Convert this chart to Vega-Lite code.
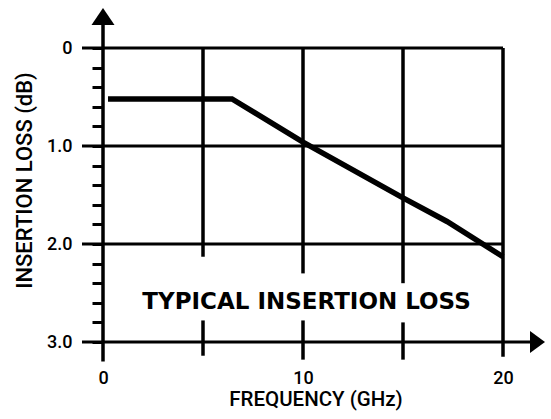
{
  "$schema": "https://vega.github.io/schema/vega-lite/v6.json",
  "width": 400,
  "height": 294,
  "autosize": {"type": "none"},
  "padding": {"left": 103, "top": 48, "right": 48, "bottom": 77},
  "background": "white",
  "config": {"view": {"stroke": null}},
  "datasets": {
    "vgrid": [
      {"x": 5, "y": 0, "y2": 2.13},
      {"x": 5, "y": 2.78, "y2": 3.14},
      {"x": 10, "y": 0, "y2": 2.3},
      {"x": 10, "y": 2.78, "y2": 3.18},
      {"x": 15, "y": 0, "y2": 2.4},
      {"x": 15, "y": 2.8, "y2": 3.18},
      {"x": 20, "y": 0, "y2": 3.15},
      {"x": 0, "y": -0.24, "y2": 3.2}
    ],
    "hgrid": [
      {"y": 0, "x": -1.05, "x2": 20},
      {"y": 1, "x": -1.05, "x2": 20},
      {"y": 2, "x": -1.05, "x2": 20},
      {"y": 3, "x": -1.05, "x2": 21.4}
    ],
    "loss": [
      {"x": 0.25, "y": 0.52},
      {"x": 6.45, "y": 0.52},
      {"x": 10, "y": 0.96},
      {"x": 15, "y": 1.53},
      {"x": 17.2, "y": 1.77},
      {"x": 20, "y": 2.13}
    ],
    "arrowUp": [{"x": 0, "y": -0.321}],
    "arrowRight": [{"x": 21.725, "y": 3}],
    "label": [{"x": 10.175, "y": 2.663, "text": "TYPICAL INSERTION LOSS"}]
  },
  "encoding": {
    "x": {
      "field": "x",
      "type": "quantitative",
      "scale": {"domain": [0, 20], "nice": false, "zero": false},
      "axis": {
        "orient": "bottom",
        "values": [0, 10, 20],
        "domain": false,
        "ticks": false,
        "tickSize": 0,
        "grid": false,
        "labelFlush": false,
        "labelOverlap": false,
        "labelFont": "Roboto",
        "labelFontWeight": 500,
        "labelFontSize": 18,
        "labelColor": "black",
        "labelBaseline": "alphabetic",
        "labelPadding": 41,
        "title": "FREQUENCY (GHz)",
        "titleFont": "Roboto",
        "titleFontSize": 20.5,
        "titleFontWeight": 500,
        "titleColor": "black",
        "titleBaseline": "alphabetic",
        "titleX": 212.5,
        "titleY": 63,
        "titleAlign": "center"
      }
    },
    "y": {
      "field": "y",
      "type": "quantitative",
      "scale": {"domain": [0, 3], "nice": false, "zero": false, "reverse": true},
      "axis": {
        "orient": "left",
        "values": [0, 0.2, 0.4, 0.6, 0.8, 1, 1.2, 1.4, 1.6, 1.8, 2, 2.2, 2.4, 2.6, 2.8, 3],
        "labelExpr": "datum.value == 0 ? '0' : (datum.value % 1 == 0 ? format(datum.value, '.1f') : '')",
        "domain": false,
        "ticks": true,
        "tickSize": 11,
        "tickWidth": 3,
        "tickColor": "black",
        "grid": false,
        "labelFlush": false,
        "labelOverlap": false,
        "labelFont": "Roboto",
        "labelFontWeight": 500,
        "labelFontSize": 18,
        "labelColor": "black",
        "labelBaseline": "middle",
        "labelPadding": 20,
        "title": "INSERTION LOSS (dB)",
        "titleFont": "Roboto",
        "titleFontSize": 22,
        "titleFontWeight": 500,
        "titleColor": "black",
        "titleBaseline": "alphabetic",
        "titleX": -72,
        "titleY": 132,
        "titleAlign": "center"
      }
    }
  },
  "layer": [
    {
      "data": {"name": "vgrid"},
      "mark": {"type": "rule", "color": "black", "strokeWidth": 3.5, "clip": false},
      "encoding": {"y2": {"field": "y2"}}
    },
    {
      "data": {"name": "hgrid"},
      "mark": {"type": "rule", "color": "black", "strokeWidth": 3.2, "clip": false},
      "encoding": {"x2": {"field": "x2"}}
    },
    {
      "data": {"name": "loss"},
      "mark": {"type": "line", "color": "black", "strokeWidth": 5.5, "strokeJoin": "miter", "clip": false}
    },
    {
      "data": {"name": "arrowUp"},
      "mark": {"type": "point", "shape": "M-1,0.74L0,-0.74L1,0.74Z", "size": 529, "filled": true, "color": "black", "opacity": 1, "clip": false}
    },
    {
      "data": {"name": "arrowRight"},
      "mark": {"type": "point", "shape": "M-0.68,-1L0.68,0L-0.68,1Z", "size": 484, "filled": true, "color": "black", "opacity": 1, "clip": false}
    },
    {
      "data": {"name": "label"},
      "mark": {"type": "text", "font": "DejaVu Sans", "fontWeight": "bold", "fontSize": 23, "color": "black", "align": "center", "baseline": "alphabetic", "clip": false},
      "encoding": {"text": {"field": "text"}}
    }
  ]
}
